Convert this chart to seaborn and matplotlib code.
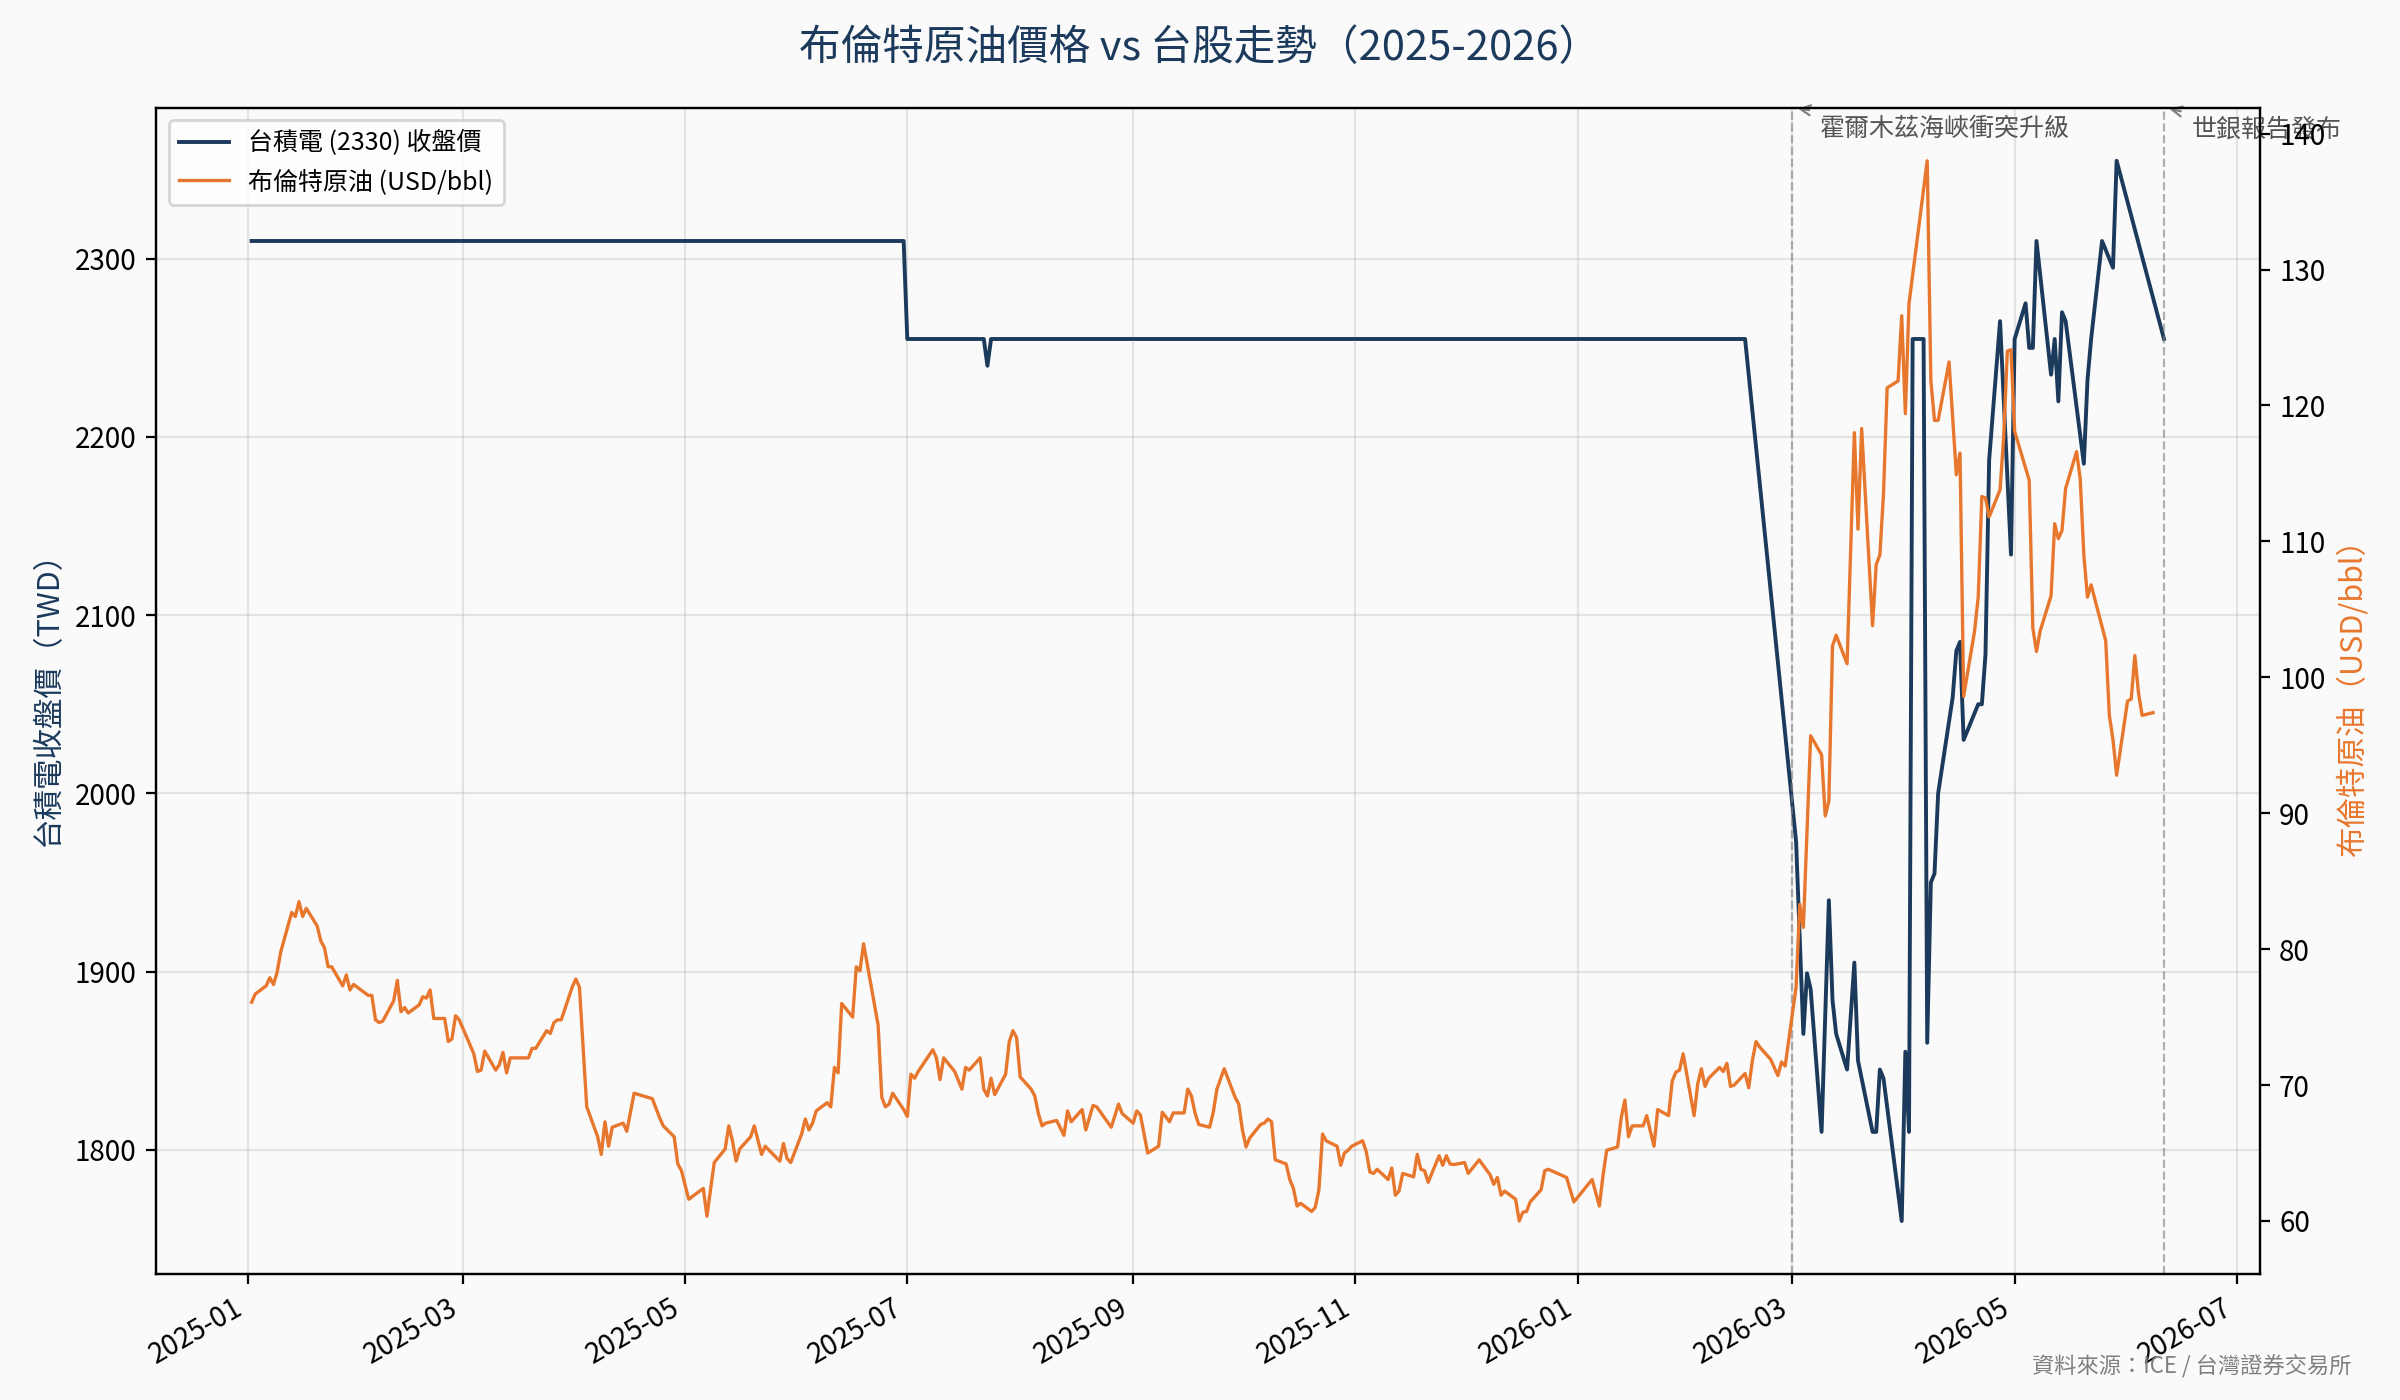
import pandas as pd
import matplotlib
matplotlib.use("Agg")
import matplotlib.pyplot as plt
import matplotlib.dates as mdates
import seaborn as sns

# 布倫特原油 (USD/bbl) - 讀圖估計
brent_dates = [
    "2025-01-02", "2025-01-03", "2025-01-06", "2025-01-07", "2025-01-08", "2025-01-09", "2025-01-10",
    "2025-01-13", "2025-01-14", "2025-01-15", "2025-01-16", "2025-01-17", "2025-01-20", "2025-01-21",
    "2025-01-22", "2025-01-23", "2025-01-24", "2025-01-27", "2025-01-28", "2025-01-29", "2025-01-30",
    "2025-01-31", "2025-02-03", "2025-02-04", "2025-02-05", "2025-02-06", "2025-02-07", "2025-02-10",
    "2025-02-11", "2025-02-12", "2025-02-13", "2025-02-14", "2025-02-17", "2025-02-18", "2025-02-19",
    "2025-02-20", "2025-02-21", "2025-02-24", "2025-02-25", "2025-02-26", "2025-02-27", "2025-02-28",
    "2025-03-04", "2025-03-05", "2025-03-06", "2025-03-07", "2025-03-10", "2025-03-11", "2025-03-12",
    "2025-03-13", "2025-03-14", "2025-03-19", "2025-03-20", "2025-03-21", "2025-03-24", "2025-03-25",
    "2025-03-26", "2025-03-27", "2025-03-28", "2025-03-31", "2025-04-01", "2025-04-02", "2025-04-04",
    "2025-04-07", "2025-04-08", "2025-04-09", "2025-04-10", "2025-04-11", "2025-04-14", "2025-04-15",
    "2025-04-17", "2025-04-22", "2025-04-24", "2025-04-25", "2025-04-28", "2025-04-29", "2025-04-30",
    "2025-05-02", "2025-05-06", "2025-05-07", "2025-05-09", "2025-05-12", "2025-05-13", "2025-05-14",
    "2025-05-15", "2025-05-16", "2025-05-19", "2025-05-20", "2025-05-22", "2025-05-23", "2025-05-27",
    "2025-05-28", "2025-05-29", "2025-05-30", "2025-06-02", "2025-06-03", "2025-06-04", "2025-06-05",
    "2025-06-06", "2025-06-09", "2025-06-10", "2025-06-11", "2025-06-12", "2025-06-13", "2025-06-16",
    "2025-06-17", "2025-06-18", "2025-06-19", "2025-06-23", "2025-06-24", "2025-06-25", "2025-06-26",
    "2025-06-27", "2025-06-30", "2025-07-01", "2025-07-02", "2025-07-03", "2025-07-04", "2025-07-07",
    "2025-07-08", "2025-07-09", "2025-07-10", "2025-07-11", "2025-07-14", "2025-07-16", "2025-07-17",
    "2025-07-18", "2025-07-21", "2025-07-22", "2025-07-23", "2025-07-24", "2025-07-25", "2025-07-28",
    "2025-07-29", "2025-07-30", "2025-07-31", "2025-08-01", "2025-08-04", "2025-08-05", "2025-08-06",
    "2025-08-07", "2025-08-08", "2025-08-11", "2025-08-13", "2025-08-14", "2025-08-15", "2025-08-18",
    "2025-08-19", "2025-08-21", "2025-08-22", "2025-08-26", "2025-08-28", "2025-08-29", "2025-09-01",
    "2025-09-02", "2025-09-03", "2025-09-05", "2025-09-08", "2025-09-09", "2025-09-11", "2025-09-12",
    "2025-09-15", "2025-09-16", "2025-09-17", "2025-09-18", "2025-09-19", "2025-09-22", "2025-09-23",
    "2025-09-24", "2025-09-26", "2025-09-29", "2025-09-30", "2025-10-01", "2025-10-02", "2025-10-03",
    "2025-10-06", "2025-10-07", "2025-10-08", "2025-10-09", "2025-10-10", "2025-10-13", "2025-10-14",
    "2025-10-15", "2025-10-16", "2025-10-17", "2025-10-20", "2025-10-21", "2025-10-22", "2025-10-23",
    "2025-10-24", "2025-10-27", "2025-10-28", "2025-10-29", "2025-10-30", "2025-10-31", "2025-11-03",
    "2025-11-04", "2025-11-05", "2025-11-06", "2025-11-07", "2025-11-10", "2025-11-11", "2025-11-12",
    "2025-11-13", "2025-11-14", "2025-11-17", "2025-11-18", "2025-11-19", "2025-11-20", "2025-11-21",
    "2025-11-24", "2025-11-25", "2025-11-26", "2025-11-27", "2025-11-28", "2025-12-01", "2025-12-02",
    "2025-12-05", "2025-12-08", "2025-12-09", "2025-12-10", "2025-12-11", "2025-12-12", "2025-12-15",
    "2025-12-16", "2025-12-17", "2025-12-18", "2025-12-19", "2025-12-22", "2025-12-23", "2025-12-24",
    "2025-12-29", "2025-12-31", "2026-01-05", "2026-01-07", "2026-01-08", "2026-01-09", "2026-01-12",
    "2026-01-13", "2026-01-14", "2026-01-15", "2026-01-16", "2026-01-19", "2026-01-20", "2026-01-21",
    "2026-01-22", "2026-01-23", "2026-01-26", "2026-01-27", "2026-01-28", "2026-01-29", "2026-01-30",
    "2026-02-02", "2026-02-03", "2026-02-04", "2026-02-05", "2026-02-06", "2026-02-09", "2026-02-10",
    "2026-02-11", "2026-02-12", "2026-02-13", "2026-02-16", "2026-02-17", "2026-02-18", "2026-02-19",
    "2026-02-20", "2026-02-23", "2026-02-24", "2026-02-25", "2026-02-26", "2026-02-27", "2026-03-02",
    "2026-03-03", "2026-03-04", "2026-03-06", "2026-03-09", "2026-03-10", "2026-03-11", "2026-03-12",
    "2026-03-13", "2026-03-16", "2026-03-18", "2026-03-19", "2026-03-20", "2026-03-23", "2026-03-24",
    "2026-03-25", "2026-03-26", "2026-03-27", "2026-03-30", "2026-03-31", "2026-04-01", "2026-04-02",
    "2026-04-07", "2026-04-08", "2026-04-09", "2026-04-10", "2026-04-13", "2026-04-15", "2026-04-16",
    "2026-04-17", "2026-04-20", "2026-04-21", "2026-04-22", "2026-04-23", "2026-04-24", "2026-04-27",
    "2026-04-28", "2026-04-29", "2026-04-30", "2026-05-01", "2026-05-05", "2026-05-06", "2026-05-07",
    "2026-05-08", "2026-05-11", "2026-05-12", "2026-05-13", "2026-05-14", "2026-05-15", "2026-05-18",
    "2026-05-19", "2026-05-20", "2026-05-21", "2026-05-22", "2026-05-26", "2026-05-27", "2026-05-28",
    "2026-05-29", "2026-06-01", "2026-06-02", "2026-06-03", "2026-06-04", "2026-06-05", "2026-06-08",
]
brent_prices = [
    76.1, 76.7, 77.3, 77.9, 77.4, 78.3, 79.8,
    82.7, 82.4, 83.5, 82.4, 83.0, 81.7, 80.6,
    80.1, 78.7, 78.7, 77.3, 78.1, 77.0, 77.4,
    77.2, 76.6, 76.6, 74.8, 74.6, 74.7, 76.2,
    77.7, 75.4, 75.7, 75.3, 75.9, 76.5, 76.4,
    77.0, 74.9, 74.9, 73.2, 73.4, 75.1, 74.8,
    72.3, 71.0, 71.1, 72.5, 71.1, 71.5, 72.4,
    70.9, 72.0, 72.0, 72.7, 72.7, 74.0, 73.8,
    74.6, 74.8, 74.8, 77.2, 77.8, 77.2, 68.4,
    66.2, 64.9, 67.3, 65.5, 66.9, 67.2, 66.6,
    69.4, 69.0, 67.6, 67.0, 66.2, 64.2, 63.7,
    61.6, 62.4, 60.35, 64.3, 65.3, 67.0, 65.9,
    64.4, 65.3, 66.2, 67.0, 64.9, 65.5, 64.4,
    65.7, 64.6, 64.3, 66.4, 67.5, 66.7, 67.2,
    68.1, 68.7, 68.4, 71.3, 70.9, 76.0, 75.0,
    78.7, 78.4, 80.4, 74.4, 69.1, 68.4, 68.6,
    69.4, 68.2, 67.7, 70.8, 70.5, 71.0, 72.2,
    72.6, 72.0, 70.4, 72.0, 71.0, 69.7, 71.3,
    71.1, 72.0, 69.7, 69.2, 70.5, 69.3, 70.8,
    73.2, 74.0, 73.5, 70.6, 69.7, 69.2, 67.9,
    67.0, 67.2, 67.4, 66.3, 68.1, 67.3, 68.2,
    66.7, 68.5, 68.4, 66.9, 68.6, 67.9, 67.2,
    68.1, 67.8, 65.0, 65.5, 68.0, 67.3, 67.95,
    67.95, 69.7, 69.2, 67.95, 67.1, 66.9, 68.0,
    69.7, 71.2, 69.1, 68.6, 66.7, 65.45, 66.1,
    67.1, 67.2, 67.5, 67.3, 64.5, 64.2, 63.05,
    62.4, 61.1, 61.3, 60.7, 61.0, 62.3, 66.4,
    65.9, 65.5, 64.1, 65.0, 65.2, 65.5, 65.9,
    65.1, 63.6, 63.5, 63.8, 63.05, 63.9, 61.9,
    62.2, 63.5, 63.25, 64.9, 63.8, 63.7, 62.85,
    64.8, 64.1, 64.8, 64.2, 64.15, 64.3, 63.5,
    64.5, 63.4, 62.7, 63.2, 61.9, 62.2, 61.6,
    60.0, 60.65, 60.7, 61.4, 62.3, 63.7, 63.8,
    63.2, 61.4, 63.05, 61.1, 63.35, 65.2, 65.45,
    67.6, 68.9, 66.2, 67.0, 67.0, 67.75, 66.6,
    65.5, 68.2, 67.75, 70.3, 70.95, 71.1, 72.3,
    67.75, 70.1, 71.2, 69.9, 70.5, 71.3, 71.0,
    71.6, 69.9, 70.0, 70.85, 69.8, 71.8, 73.2,
    72.8, 71.9, 71.3, 70.7, 71.7, 71.4, 77.2,
    83.3, 81.6, 95.7, 94.3, 89.8, 90.9, 102.3,
    103.1, 101.0, 118.0, 110.9, 118.3, 103.8, 108.3,
    109.0, 113.5, 121.3, 121.8, 126.6, 119.4, 127.5,
    138.0, 121.8, 118.9, 118.9, 123.2, 114.9, 116.5,
    98.6, 103.4, 105.9, 113.3, 113.2, 111.8, 113.8,
    117.7, 124.0, 124.1, 118.1, 114.5, 103.6, 101.9,
    103.4, 106.0, 111.3, 110.2, 110.8, 113.9, 116.6,
    114.6, 109.0, 105.9, 106.8, 102.7, 97.2, 95.4,
    92.8, 98.25, 98.4, 101.6, 98.85, 97.2, 97.4,
]

# 台積電 (2330) 收盤價 (TWD)
tsmc_dates = [
    "2025-01-02", "2025-06-30", "2025-07-01", "2025-07-22", "2025-07-23", "2025-07-24",
    "2026-02-16", "2026-03-02", "2026-03-04", "2026-03-05", "2026-03-06", "2026-03-09",
    "2026-03-11", "2026-03-12", "2026-03-13", "2026-03-16", "2026-03-18", "2026-03-19",
    "2026-03-23", "2026-03-24", "2026-03-25", "2026-03-26", "2026-03-31", "2026-04-01",
    "2026-04-02", "2026-04-03", "2026-04-06", "2026-04-07", "2026-04-08", "2026-04-09",
    "2026-04-10", "2026-04-14", "2026-04-15", "2026-04-16", "2026-04-17", "2026-04-21",
    "2026-04-22", "2026-04-23", "2026-04-24", "2026-04-27", "2026-04-30", "2026-05-01",
    "2026-05-04", "2026-05-05", "2026-05-06", "2026-05-07", "2026-05-11", "2026-05-12",
    "2026-05-13", "2026-05-14", "2026-05-15", "2026-05-20", "2026-05-21", "2026-05-22",
    "2026-05-25", "2026-05-28", "2026-05-29", "2026-06-11",
]
tsmc_prices = [
    2310, 2310, 2255, 2255, 2240, 2255,
    2255, 1973, 1865, 1899, 1890, 1810,
    1940, 1884, 1865, 1845, 1905, 1850,
    1810, 1810, 1845, 1840, 1760, 1855,
    1810, 2255, 2255, 1860, 1950, 1955,
    2000, 2054, 2080, 2085, 2030, 2050,
    2050, 2078, 2187, 2265, 2134, 2255,
    2275, 2250, 2250, 2310, 2235, 2255,
    2220, 2270, 2265, 2185, 2232, 2255,
    2310, 2295, 2355, 2255,
]

event_dates = ["2026-03-01", "2026-06-11"]
event_labels = ["霍爾木茲海峽衝突升級", "世銀報告發布"]

NAVY = "#1b3a5c"
ORANGE = "#e8772e"
BG = "#fafafa"

plt.rcParams["font.family"] = ["Noto Sans CJK TC", "DejaVu Sans"]
plt.rcParams["axes.unicode_minus"] = False

tsmc = pd.DataFrame({"date": pd.to_datetime(tsmc_dates), "price": tsmc_prices})
brent = pd.DataFrame({"date": pd.to_datetime(brent_dates), "price": brent_prices})

fig, ax1 = plt.subplots(figsize=(12, 7), dpi=200)
fig.patch.set_facecolor(BG)
ax1.set_facecolor(BG)

sns.lineplot(data=tsmc, x="date", y="price", ax=ax1, color=NAVY, linewidth=1.4,
             label="台積電 (2330) 收盤價")
ax2 = ax1.twinx()
sns.lineplot(data=brent, x="date", y="price", ax=ax2, color=ORANGE, linewidth=1.2,
             label="布倫特原油 (USD/bbl)")

ax1.set_xlabel("")
ax1.set_ylabel("台積電收盤價（TWD）", color=NAVY, fontsize=11)
ax2.set_ylabel("布倫特原油（USD/bbl）", color=ORANGE, fontsize=11)
ax1.grid(True, alpha=0.3)

ax1.xaxis.set_major_locator(mdates.MonthLocator(bymonth=[1, 3, 5, 7, 9, 11]))
ax1.xaxis.set_major_formatter(mdates.DateFormatter("%Y-%m"))
plt.setp(ax1.get_xticklabels(), rotation=30, ha="right")

# 事件標記
for d, txt in zip(event_dates, event_labels):
    xd = mdates.date2num(pd.Timestamp(d))
    ax1.axvline(pd.Timestamp(d), color="gray", linestyle="--", linewidth=0.8, alpha=0.6)
    ax1.annotate(txt, xy=(xd, 1.0), xycoords=("data", "axes fraction"),
                 xytext=(10, -3), textcoords="offset points", ha="left", va="top",
                 fontsize=9, color="#555555",
                 arrowprops=dict(arrowstyle="->", color="gray", lw=0.8))

h1, l1 = ax1.get_legend_handles_labels()
h2, l2 = ax2.get_legend_handles_labels()
if ax2.get_legend() is not None:
    ax2.get_legend().remove()
ax1.legend(h1 + h2, l1 + l2, loc="upper left", fontsize=9)

fig.suptitle("布倫特原油價格 vs 台股走勢（2025-2026）", fontsize=15, color=NAVY, y=0.98)
fig.text(0.98, 0.015, "資料來源：ICE / 台灣證券交易所", ha="right", va="bottom",
         fontsize=8, color="gray")

fig.subplots_adjust(left=0.065, right=0.9415, bottom=0.09, top=0.923)
fig.savefig("out.png", dpi=200, facecolor=BG)
